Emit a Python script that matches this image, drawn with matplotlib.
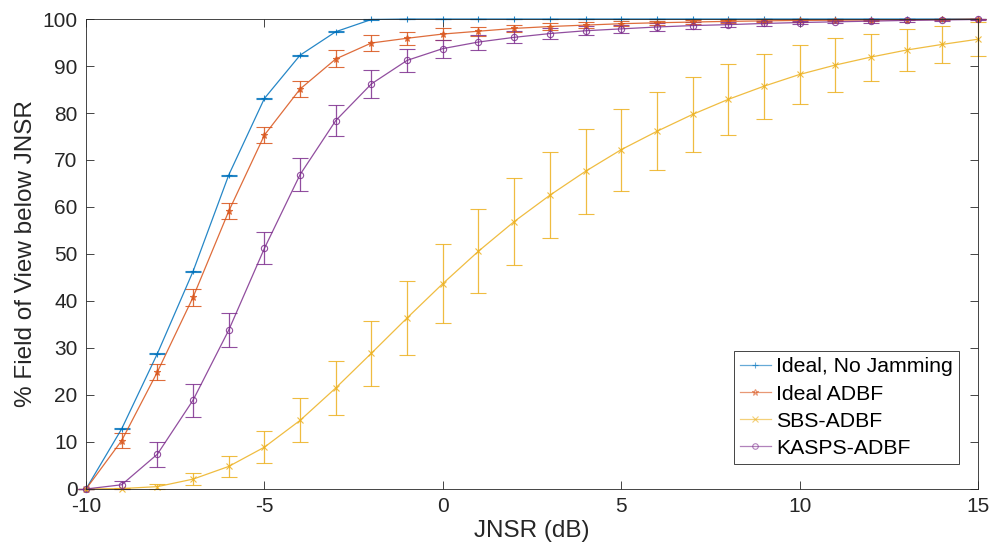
"""Plot the fraction of field of view below a JNSR level for several ADBF schemes"""
import matplotlib
matplotlib.use("Agg")
import matplotlib.pyplot as plt
from matplotlib.lines import Line2D
import numpy as np


jnsr_db = list(range(-10, 16))

ideal_no_jam = [0, 12.8, 28.8, 46.3, 66.8, 83.1, 92.3, 97.3, 99.9, 100, 100, 100, 100,
                100, 100, 100, 100, 100, 100, 100, 100, 100, 100, 100, 100, 100]
ideal_no_jam_err = [0.1] * 26

ideal_adbf = [0, 10.3, 24.9, 40.8, 59.1, 75.3, 85.1, 91.5, 94.9, 95.9, 96.8, 97.4, 98.0,
              98.4, 98.7, 99.0, 99.2, 99.35, 99.5, 99.6, 99.7, 99.75, 99.8, 99.85, 99.9, 100]
ideal_adbf_err = [0, 1.6, 1.7, 1.8, 1.7, 1.7, 1.8, 1.8, 1.7, 1.4, 1.2, 1.0, 0.8,
                  0.7, 0.6, 0.5, 0.45, 0.4, 0.35, 0.3, 0.25, 0.2, 0.2, 0.15, 0.1, 0.05]

sbs_adbf = [0, 0.1, 0.5, 2.1, 4.8, 8.9, 14.6, 21.5, 28.9, 36.4, 43.7, 50.6, 56.9,
            62.5, 67.6, 72.2, 76.1, 79.7, 82.9, 85.7, 88.2, 90.2, 91.9, 93.4, 94.6, 95.7]
sbs_adbf_err = [0, 0.2, 0.6, 1.2, 2.2, 3.4, 4.7, 5.8, 6.9, 7.8, 8.4, 8.9, 9.2,
                9.2, 9.0, 8.7, 8.3, 8.0, 7.6, 6.9, 6.3, 5.7, 5.0, 4.5, 4.0, 3.6]

kasps_adbf = [0, 0.9, 7.4, 18.9, 33.8, 51.2, 66.9, 78.4, 86.2, 91.2, 93.7, 95.1, 96.1,
              96.9, 97.5, 97.9, 98.3, 98.6, 98.8, 99.05, 99.25, 99.4, 99.55, 99.7, 99.8, 99.9]
kasps_adbf_err = [0, 0.8, 2.7, 3.5, 3.6, 3.4, 3.5, 3.2, 3.0, 2.5, 1.9, 1.6, 1.3,
                  1.2, 1.0, 0.9, 0.8, 0.7, 0.6, 0.5, 0.4, 0.35, 0.3, 0.25, 0.2, 0.1]

series_names = ["Ideal, No Jamming", "Ideal ADBF", "SBS-ADBF", "KASPS-ADBF"]
series_colors = ["#0072BD", "#D95319", "#EDB120", "#7E2F8E"]
series_markers = ["+", "*", "x", "o"]


def plot_fov():
    """Draws the four curves with their error bars"""
    plt.rcParams["font.family"] = ["Liberation Sans", "DejaVu Sans"]
    plt.rcParams["axes.unicode_minus"] = False
    axis_color = "#262626"
    fig = plt.figure(figsize=(9.92, 5.46), dpi=100)
    ax = fig.add_axes([0.0867, 0.1044, 0.8992, 0.8608])

    values = [ideal_no_jam, ideal_adbf, sbs_adbf, kasps_adbf]
    errors = [ideal_no_jam_err, ideal_adbf_err, sbs_adbf_err, kasps_adbf_err]
    handles = []
    for y, err, name, color, marker in zip(values, errors, series_names, series_colors, series_markers):
        msize = 4.5 if marker == "o" else 5
        ax.errorbar(jnsr_db, y, yerr=err, color=color, marker=marker, markersize=msize,
                    markerfacecolor="none", markeredgewidth=0.8, linewidth=0.9, elinewidth=0.9,
                    capsize=6, capthick=0.9, clip_on=False, alpha=0.85)
        # legend shows only line + marker, like the original
        handles.append(Line2D([], [], color=color, marker=marker, markersize=msize - 0.5,
                              markerfacecolor="none", markeredgewidth=0.8, linewidth=0.9,
                              alpha=0.6, label=name))

    ax.set_xlim(-10, 15)
    ax.set_ylim(0, 100)
    ax.set_xticks(np.arange(-10, 16, 5))
    ax.set_yticks(np.arange(0, 101, 10))
    ax.tick_params(direction="in", length=6, width=0.6, top=True, right=True,
                   labelsize=15, colors=axis_color, pad=6)
    for spine in ax.spines.values():
        spine.set_color(axis_color)
        spine.set_linewidth(0.6)
    ax.set_xlabel("JNSR (dB)", fontsize=17.5, color=axis_color, labelpad=3)
    ax.set_ylabel("% Field of View below JNSR", fontsize=17.5, color=axis_color, labelpad=4)

    leg = ax.legend(handles=handles, loc="lower right", bbox_to_anchor=(0.979, 0.053),
                    fontsize=15.3, fancybox=False, edgecolor=axis_color, handlelength=1.45,
                    handletextpad=0.25, borderpad=0.3, labelspacing=0.38, borderaxespad=0,
                    framealpha=1)
    leg.get_frame().set_linewidth(0.6)

    fig.savefig("out.png", dpi=100)


if __name__ == "__main__":
    plot_fov()
